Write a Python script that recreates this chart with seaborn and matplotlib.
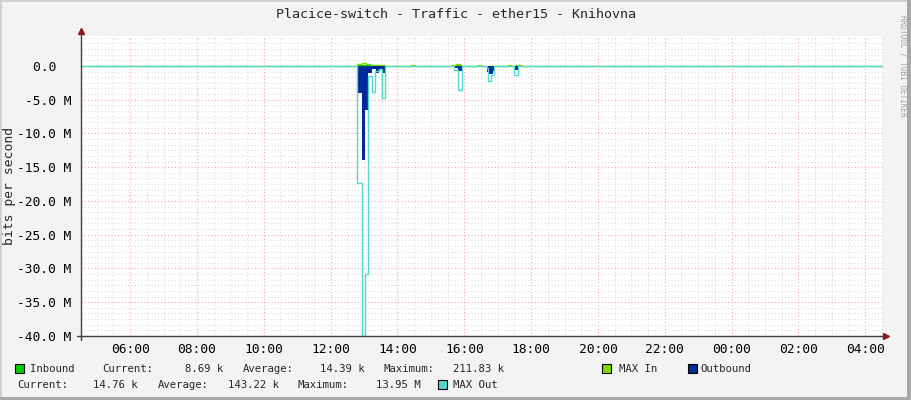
import numpy as np
import pandas as pd
import seaborn as sns
import matplotlib.pyplot as plt
from matplotlib.lines import Line2D
from matplotlib.patches import Rectangle
from matplotlib.ticker import MultipleLocator, FuncFormatter

# hours since 00:00 of the first day, values in Mbit/s
out_t = [4.53, 12.795, 12.927, 13.026, 13.11, 13.25, 13.35, 13.45, 13.55, 13.64,
         15.72, 15.80, 15.94, 16.68, 16.75, 16.85, 16.91, 17.49, 17.62, 28.53]
out_v = [-0.015, -4.06, -13.95, -6.5, -1.0, -0.45, -1.0, -0.4, -1.0, -0.015,
         -0.3, -0.7, -0.015, -0.9, -1.2, -0.7, -0.015, -0.6, -0.015, -0.015]

maxout_t = [4.53, 12.795, 12.93, 13.03, 13.11, 13.24, 13.34, 13.44, 13.54, 13.64,
            15.69, 15.81, 15.94, 16.67, 16.71, 16.81, 16.88, 17.49, 17.62, 28.53]
maxout_v = [-0.03, -17.4, -45.0, -30.8, -1.5, -3.8, -0.8, -0.5, -4.8, -0.03,
            -0.6, -3.5, -0.03, -0.3, -2.3, -1.3, -0.03, -1.4, -0.03, -0.03]

in_t = [4.53, 12.80, 13.64, 15.70, 15.94, 28.53]
in_v = [0.01, 0.15, 0.01, 0.08, 0.01, 0.01]

maxin_t = [4.53, 12.80, 12.93, 13.06, 13.20, 13.64, 14.42, 14.52, 15.62, 15.75, 15.86,
           16.40, 16.51, 17.31, 17.41, 17.56, 17.71, 28.53]
maxin_v = [0.02, 0.3, 0.45, 0.3, 0.2, 0.02, 0.15, 0.02, 0.2, 0.35, 0.02,
           0.15, 0.02, 0.15, 0.02, 0.15, 0.02, 0.02]

hour_ticks = list(range(6, 29, 2))
hour_labels = ["%02d:00" % (h % 24) for h in hour_ticks]

legend_row1 = [("Inbound", 30), ("Current:", 102), ("8.69 k", 185), ("Average:", 243),
               ("14.39 k", 320), ("Maximum:", 383), ("211.83 k", 453),
               ("MAX In", 619), ("Outbound", 700)]
legend_row2 = [("Current:", 17), ("14.76 k", 93), ("Average:", 158), ("143.22 k", 228),
               ("Maximum:", 298), ("13.95 M", 376), ("MAX Out", 453)]

c_in = "#00CC00"
c_maxin = "#73DF00"
c_out = "#002A97"
c_maxout = "#55D6D3"

sns.set_style("white")
plt.rcParams["font.family"] = ["DejaVu Sans Mono"]

W, H = 911, 400
def px(x, y):
    return x / W, 1 - y / H

fig = plt.figure(figsize=(9.11, 4.0), dpi=100, facecolor="#F3F3F3")
ax = fig.add_axes([81 / W, (H - 336) / H, 802 / W, 300 / H])
ax.set_facecolor("white")

df_out = pd.DataFrame({"t": out_t, "v": np.array(out_v) * 1e6})
df_maxout = pd.DataFrame({"t": maxout_t, "v": np.array(maxout_v) * 1e6})
df_in = pd.DataFrame({"t": in_t, "v": np.array(in_v) * 1e6})
df_maxin = pd.DataFrame({"t": maxin_t, "v": np.array(maxin_v) * 1e6})

ax.fill_between(df_in["t"], 0, df_in["v"], step="post", color=c_in, lw=0, zorder=3)
sns.lineplot(data=df_maxin, x="t", y="v", drawstyle="steps-post", color=c_maxin,
             lw=1.0, ax=ax, zorder=4)
ax.fill_between(df_out["t"], 0, df_out["v"], step="post", color=c_out, lw=0, zorder=5)
sns.lineplot(data=df_maxout, x="t", y="v", drawstyle="steps-post", color=c_maxout,
             lw=1.0, ax=ax, zorder=6)

ax.set_xlim(4.53, 28.53)
ax.set_ylim(-40e6, 4.44e6)
ax.set_xlabel("")
ax.set_ylabel("")

ax.set_xticks(hour_ticks)
ax.set_xticklabels(hour_labels)
ax.xaxis.set_minor_locator(MultipleLocator(0.5))
ax.yaxis.set_major_locator(MultipleLocator(5e6))
ax.yaxis.set_minor_locator(MultipleLocator(5e6 / 6))
ax.yaxis.set_major_formatter(FuncFormatter(
    lambda v, p: "0.0  " if abs(v) < 1 else "%.1f M" % (v / 1e6)))

ax.grid(which="minor", color="#DCDCDC", linestyle=(0, (1, 2)), lw=0.8, zorder=1)
ax.grid(which="major", color="#F0A8A8", linestyle=(0, (1, 2)), lw=0.8, zorder=2)
ax.tick_params(which="both", length=0, labelsize=9.3, colors="#000000")
ax.tick_params(axis="y", pad=7)
ax.tick_params(axis="x", pad=5)
for s in ax.spines.values():
    s.set_visible(False)

# axes lines with arrows
fig.add_artist(Line2D(*zip(px(81, 340), px(81, 31)), color="#404040", lw=1))
fig.add_artist(Line2D(*zip(px(77, 336), px(885, 336)), color="#404040", lw=1))
ax_arrow = dict(color="#8B1A1A", markersize=5, clip_on=False, transform=fig.transFigure)
fig.add_artist(Line2D([px(81, 31)[0]], [px(81, 31)[1]], marker="^", lw=0, **{k: v for k, v in ax_arrow.items() if k != "transform"}, transform=fig.transFigure))
fig.add_artist(Line2D([px(886, 336)[0]], [px(886, 336)[1]], marker=">", lw=0, **{k: v for k, v in ax_arrow.items() if k != "transform"}, transform=fig.transFigure))

fig.text(*px(455.5, 14), "Placice-switch - Traffic - ether15 - Knihovna",
         ha="center", va="center", fontsize=9.6)
fig.text(*px(10, 186), "bits per second", rotation=90, ha="center", va="center", fontsize=9.4)
fig.text(*px(903, 15), "RRDTOOL / TOBI OETIKER", rotation=270, ha="center", va="top",
         fontsize=5.6, color="#A0A0A0")

# legend
def box(x, y, color):
    fig.add_artist(Rectangle(px(x, y + 9), 9 / W, 9 / H, transform=fig.transFigure,
                             facecolor=color, edgecolor="black", lw=0.8))

box(15, 364, c_in)
box(602, 364, c_maxin)
box(688, 364, c_out)
box(438, 380, c_maxout)
for txt, x in legend_row1:
    fig.text(*px(x, 369), txt, ha="left", va="center", fontsize=7.7)
for txt, x in legend_row2:
    fig.text(*px(x, 385), txt, ha="left", va="center", fontsize=7.7)

# frame
fig.add_artist(Rectangle((0, 1 - 2 / H), 1, 2 / H, transform=fig.transFigure, color="#D0D0D0", lw=0))
fig.add_artist(Rectangle((0, 0), 2 / W, 1, transform=fig.transFigure, color="#D0D0D0", lw=0))
fig.add_artist(Rectangle((1 - 4 / W, 0), 4 / W, 1, transform=fig.transFigure, color="#A8A8A8", lw=0))
fig.add_artist(Rectangle((0, 0), 1, 3 / H, transform=fig.transFigure, color="#A8A8A8", lw=0))

fig.savefig("out.png", dpi=100, facecolor=fig.get_facecolor())
